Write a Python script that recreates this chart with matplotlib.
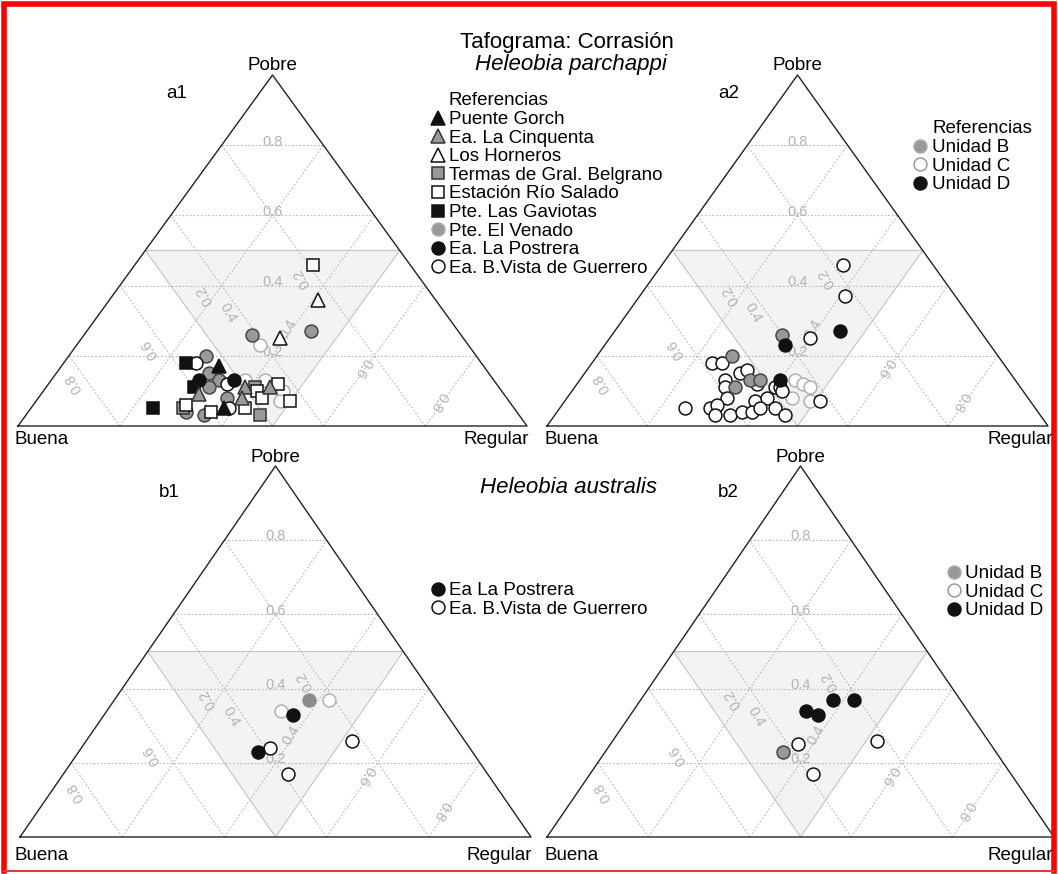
import numpy as np
import matplotlib.pyplot as plt
from matplotlib.patches import Polygon

plt.rcParams['font.family'] = ['Liberation Sans', 'DejaVu Sans']

# datos: (Buena, Regular, Pobre)
a1_puente_gorch = [(0.52, 0.31, 0.17), (0.57, 0.38, 0.05)]
a1_cinquenta = [(0.50, 0.39, 0.11), (0.45, 0.44, 0.11), (0.60, 0.31, 0.09), (0.52, 0.40, 0.08)]
a1_horneros = [(0.23, 0.41, 0.36), (0.36, 0.39, 0.25)]
a1_termas = [(0.48, 0.41, 0.11), (0.65, 0.30, 0.05), (0.51, 0.46, 0.03)]
a1_rio_salado = [(0.19, 0.35, 0.46), (0.48, 0.42, 0.10), (0.43, 0.45, 0.12), (0.48, 0.44, 0.08),
                 (0.43, 0.50, 0.07), (0.64, 0.30, 0.06), (0.60, 0.36, 0.04), (0.53, 0.42, 0.05)]
a1_gaviotas = [(0.58, 0.24, 0.18), (0.60, 0.29, 0.11), (0.71, 0.24, 0.05)]
a1_venado = [(0.41, 0.33, 0.26), (0.29, 0.44, 0.27), (0.53, 0.27, 0.20), (0.55, 0.30, 0.15),
             (0.54, 0.33, 0.13), (0.57, 0.32, 0.11), (0.55, 0.37, 0.08), (0.65, 0.31, 0.04),
             (0.62, 0.35, 0.03)]
a1_postrera = [(0.58, 0.29, 0.13), (0.51, 0.36, 0.13)]
a1_bvista = [(0.56, 0.26, 0.18), (0.53, 0.35, 0.12), (0.56, 0.39, 0.05)]
a1_bvista_tenue = [(0.41, 0.36, 0.23), (0.49, 0.38, 0.13), (0.45, 0.42, 0.13), (0.43, 0.47, 0.10),
                   (0.45, 0.48, 0.07)]

a2_unidad_b = [(0.40, 0.34, 0.26), (0.53, 0.27, 0.20), (0.53, 0.34, 0.13), (0.51, 0.36, 0.13),
               (0.57, 0.32, 0.11)]
a2_unidad_d = [(0.28, 0.45, 0.27), (0.41, 0.36, 0.23), (0.47, 0.40, 0.13)]
a2_unidad_c = [(0.18, 0.36, 0.46), (0.22, 0.41, 0.37), (0.35, 0.40, 0.25), (0.58, 0.24, 0.18),
               (0.56, 0.26, 0.18), (0.54, 0.31, 0.15), (0.52, 0.32, 0.16), (0.52, 0.36, 0.12),
               (0.58, 0.29, 0.13), (0.59, 0.30, 0.11), (0.49, 0.40, 0.11), (0.48, 0.41, 0.11),
               (0.48, 0.42, 0.10), (0.42, 0.51, 0.07), (0.60, 0.32, 0.08), (0.55, 0.38, 0.07),
               (0.52, 0.40, 0.08), (0.70, 0.25, 0.05), (0.65, 0.30, 0.05), (0.63, 0.31, 0.06),
               (0.65, 0.32, 0.03), (0.62, 0.35, 0.03), (0.59, 0.37, 0.04), (0.57, 0.39, 0.04),
               (0.55, 0.40, 0.05), (0.52, 0.43, 0.05), (0.51, 0.46, 0.03)]
a2_unidad_c_tenue = [(0.44, 0.43, 0.13), (0.43, 0.45, 0.12), (0.42, 0.47, 0.11), (0.47, 0.45, 0.08),
                     (0.44, 0.49, 0.07)]

b1_postrera = [(0.30, 0.37, 0.33), (0.42, 0.35, 0.23)]
b1_bvista = [(0.22, 0.52, 0.26), (0.39, 0.37, 0.24), (0.39, 0.44, 0.17)]
b1_bvista_tenue = [(0.21, 0.42, 0.37), (0.32, 0.34, 0.34)]
b1_otros = [(0.25, 0.38, 0.37)]

b2_unidad_b = [(0.42, 0.35, 0.23)]
b2_unidad_c = [(0.22, 0.52, 0.26), (0.38, 0.37, 0.25), (0.39, 0.44, 0.17)]
b2_unidad_d = [(0.25, 0.38, 0.37), (0.21, 0.42, 0.37), (0.32, 0.34, 0.34), (0.30, 0.37, 0.33)]

grid_vals = [0.2, 0.4, 0.6, 0.8]

# estilos de marcadores
MK = dict(ls='none', mew=1.1)
tri_negro = dict(marker='^', ms=9.5, mfc='#111111', mec='#111111')
tri_gris = dict(marker='^', ms=9.5, mfc='#999999', mec='#333333')
tri_blanco = dict(marker='^', ms=9.5, mfc='white', mec='#111111')
cua_gris = dict(marker='s', ms=8.3, mfc='#999999', mec='#333333')
cua_blanco = dict(marker='s', ms=8.3, mfc='white', mec='#111111')
cua_negro = dict(marker='s', ms=8.3, mfc='#111111', mec='#111111')
cir_gris = dict(marker='o', ms=9.3, mfc='#999999', mec='#444444')
cir_negro = dict(marker='o', ms=9.3, mfc='#111111', mec='#111111')
cir_blanco = dict(marker='o', ms=9.3, mfc='white', mec='#111111')
cir_tenue = dict(marker='o', ms=9.3, mfc='white', mec='#b0b0b0')
cir_gris_leg = dict(marker='o', ms=9.3, mfc='#999999', mec='#aaaaaa')
cir_blanco_leg = dict(marker='o', ms=9.3, mfc='white', mec='#999999')
cir_gris_suave = dict(marker='o', ms=9.3, mfc='#8c8c8c', mec='#8c8c8c')

W, H = 1058, 874
fig = plt.figure(figsize=(W / 100, H / 100), dpi=100)


def to_xy(pts):
    arr = np.asarray(pts, dtype=float)
    return arr[:, 1] + arr[:, 2] / 2, arr[:, 2]


def ternary_line(comp, t):
    # linea con una componente fija = t
    if comp == 'pobre':
        pts = [(1 - t, 0, t), (0, 1 - t, t)]
    elif comp == 'regular':
        pts = [(1 - t, t, 0), (0, t, 1 - t)]
    else:
        pts = [(t, 1 - t, 0), (t, 0, 1 - t)]
    return to_xy(pts)


# etiquetas de la grilla (posicion relativa en el panel, texto, rotacion)
grid_labels = [
    (0.5, 0.81, '0.8', 0), (0.5, 0.61, '0.6', 0), (0.5, 0.41, '0.4', 0), (0.5, 0.21, '0.2', 0),
    (0.110, 0.122, '0.8', 120), (0.258, 0.22, '0.6', 120), (0.367, 0.372, '0.2', 120),
    (0.412, 0.323, '0.4', -60),
    (0.558, 0.421, '0.2', 120), (0.531, 0.275, '0.4', 60), (0.677, 0.165, '0.6', -120),
    (0.826, 0.07, '0.8', -120),
]


def draw_panel(L, R, base, apex, series):
    ax = fig.add_axes([L / W, (H - base) / H, (R - L) / W, (base - apex) / H])
    ax.set_xlim(0, 1)
    ax.set_ylim(0, 1)
    ax.axis('off')
    mx, my = to_xy([(0.5, 0, 0.5), (0, 0.5, 0.5), (0.5, 0.5, 0)])
    ax.add_patch(Polygon(np.column_stack([mx, my]), closed=True, fc='#f3f3f3',
                         ec='#c4c4c4', lw=0.8, zorder=1))
    for t in grid_vals:
        for comp in ('pobre', 'regular', 'buena'):
            gx, gy = ternary_line(comp, t)
            ax.plot(gx, gy, color='#b8b8b8', lw=0.8, ls=(0, (1.5, 1.8)), zorder=2)
    for u, v, txt, rot in grid_labels:
        ax.text(u, v, txt, fontsize=10.5, color='#b4b4b4', rotation=rot,
                ha='center', va='center', rotation_mode='anchor', zorder=3)
    tx, ty = to_xy([(1, 0, 0), (0, 1, 0), (0, 0, 1), (1, 0, 0)])
    ax.plot(tx, ty, color='#222222', lw=1.0, zorder=4, clip_on=False)
    for pts, sty in series:
        x, y = to_xy(pts)
        ax.plot(x, y, clip_on=False, zorder=5, **MK, **sty)
    return ax


draw_panel(18, 527, 426, 75, [
    (a1_bvista_tenue, cir_tenue), (a1_venado, cir_gris), (a1_bvista, cir_blanco),
    (a1_postrera, cir_negro), (a1_termas, cua_gris), (a1_rio_salado, cua_blanco),
    (a1_gaviotas, cua_negro), (a1_cinquenta, tri_gris), (a1_horneros, tri_blanco),
    (a1_puente_gorch, tri_negro)])
draw_panel(547, 1048, 426, 75, [
    (a2_unidad_c_tenue, cir_tenue), (a2_unidad_c, cir_blanco), (a2_unidad_b, cir_gris),
    (a2_unidad_d, cir_negro)])
draw_panel(20, 531, 837, 466, [
    (b1_bvista_tenue, cir_tenue), (b1_otros, cir_gris_suave), (b1_bvista, cir_blanco),
    (b1_postrera, cir_negro)])
draw_panel(547, 1054, 837, 466, [
    (b2_unidad_c, cir_blanco), (b2_unidad_b, cir_gris), (b2_unidad_d, cir_negro)])

# capa de textos, referencias y marco (coordenadas en pixeles)
ov = fig.add_axes([0, 0, 1, 1])
ov.set_xlim(0, W)
ov.set_ylim(H, 0)
ov.axis('off')

FS = 13.5
ov.text(567, 48, 'Tafograma: Corrasión', fontsize=16, ha='center', va='baseline')
ov.text(571, 70, 'Heleobia parchappi', fontsize=16, style='italic', ha='center', va='baseline')
ov.text(568, 493, 'Heleobia australis', fontsize=16, style='italic', ha='center', va='baseline')

for x, y in [(272, 70), (797, 70), (275, 462), (800, 462)]:
    ov.text(x, y, 'Pobre', fontsize=FS, ha='center', va='baseline')
for x, y, s in [(177, 98, 'a1'), (729, 98, 'a2'), (169, 497, 'b1'), (728, 497, 'b2')]:
    ov.text(x, y, s, fontsize=FS, ha='center', va='baseline')
for x, y in [(15, 444), (545, 444), (15, 860), (545, 860)]:
    ov.text(x, y, 'Buena', fontsize=FS, ha='left', va='baseline')
for x, y in [(529, 444), (1053, 444), (532, 860), (1053, 860)]:
    ov.text(x, y, 'Regular', fontsize=FS, ha='right', va='baseline')


def referencias(xm, xt, y0, entries, title=None, step=18.6):
    y = y0
    if title:
        ov.text(xt, y, title, fontsize=FS, ha='left', va='baseline')
        y += step + 0.5
    for label, sty in entries:
        ov.plot([xm], [y - 6.5], clip_on=False, **MK, **sty)
        ov.text(xt, y, label, fontsize=FS, ha='left', va='baseline')
        y += step


referencias(438, 449, 105, [
    ('Puente Gorch', tri_negro), ('Ea. La Cinquenta', tri_gris), ('Los Horneros', tri_blanco),
    ('Termas de Gral. Belgrano', cua_gris), ('Estación Río Salado', cua_blanco),
    ('Pte. Las Gaviotas', cua_negro), ('Pte. El Venado', cir_gris_leg),
    ('Ea. La Postrera', cir_negro), ('Ea. B.Vista de Guerrero', cir_blanco)], 'Referencias')
referencias(920, 932, 133, [
    ('Unidad B', cir_gris_leg), ('Unidad C', cir_blanco_leg), ('Unidad D', cir_negro)],
    'Referencias')
referencias(438, 449, 595, [
    ('Ea La Postrera', cir_negro), ('Ea. B.Vista de Guerrero', cir_blanco)])
referencias(954, 965, 578, [
    ('Unidad B', cir_gris_leg), ('Unidad C', cir_blanco_leg), ('Unidad D', cir_negro)])

# marco rojo
ov.plot([4, 4, 1054, 1054], [871, 4, 4, 871], color='#ff0000', lw=4, solid_joinstyle='miter',
        clip_on=False)
ov.plot([4, 1054], [871, 871], color='#d8413a', lw=1.5, clip_on=False)

fig.savefig('out.png', dpi=100, facecolor='white')
